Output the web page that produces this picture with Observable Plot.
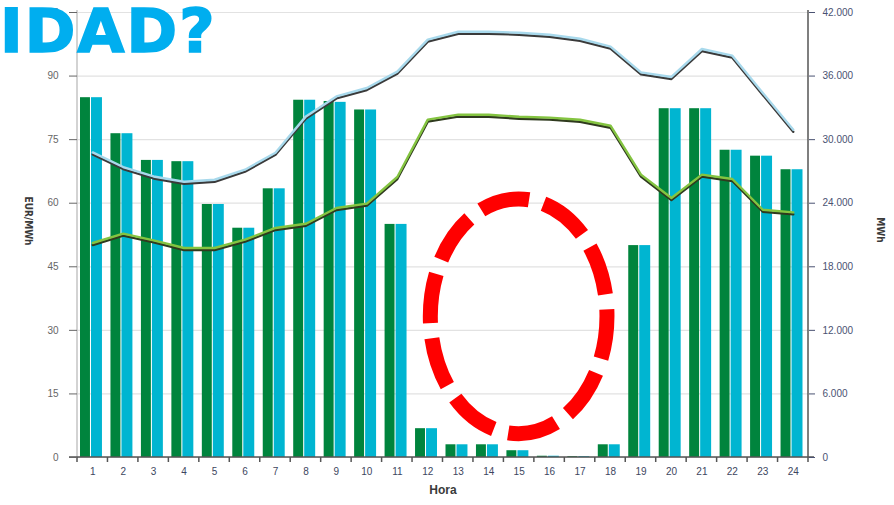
<!DOCTYPE html>
<html><head><meta charset="utf-8">
<script src="https://cdn.jsdelivr.net/npm/d3@7"></script>
<script src="https://cdn.jsdelivr.net/npm/@observablehq/plot@0.6"></script>
<style>
html,body{margin:0;padding:0;background:#fff;overflow:hidden;}
#wrap{position:relative;width:894px;height:505px;}
#title{position:absolute;left:0px;top:1px;font:bold 61px "DejaVu Sans";line-height:60px;letter-spacing:2px;color:#00aeef;-webkit-text-stroke:1.6px #00aeef;white-space:nowrap;}
</style></head><body>
<div id="wrap"><div id="chart"></div><div id="title">IDAD?</div></div>
<script>
// categories
const hours = [1,2,3,4,5,6,7,8,9,10,11,12,13,14,15,16,17,18,19,20,21,22,23,24];
// prices EUR/MWh (two series, green and cyan bars)
const priceGreen = [84.9,76.4,70.1,69.8,59.7,54.1,63.4,84.3,84.0,82.0,55.0,6.8,3.0,3.0,1.6,0.3,0.2,3.0,50.0,82.3,82.3,72.5,71.1,67.9];
const priceCyan  = [84.9,76.4,70.1,69.8,59.7,54.1,63.4,84.3,83.8,82.0,55.0,6.8,3.0,3.0,1.6,0.3,0.2,3.0,50.0,82.3,82.3,72.5,71.1,67.9];
// energy MWh (right axis)
const energyBlue  = [28720,27340,26450,25950,26140,27090,28690,32120,34000,34800,36340,39360,40110,40110,40020,39830,39450,38700,36270,35840,38480,37850,34330,30860];
const energyGreen = [20170,21050,20410,19700,19700,20480,21590,21990,23470,23880,26400,31810,32280,32280,32090,32000,31800,31240,26620,24420,26620,26210,23310,23060];
// tick labels
const leftTicks = [0,15,30,45,60,75,90,105];
const rightTicks = [0,6000,12000,18000,24000,30000,36000,42000];
// axis titles
const yLabelLeft = "EUR/MWh", yLabelRight = "MWh", xLabel = "Hora";
// annotation ring (data units)
const ringHour = 15, ringValue = 33.2, ringHalfHours = 2.9, ringHalfEur = 27.7;

const mwhPerEur = 42000 / 105;
const fmt = d3.formatLocale({decimal:",", thousands:".", grouping:[3], currency:["","€"]}).format(",.0f");

const rows = hours.map((h,i)=>({hour:h, g:priceGreen[i], c:priceCyan[i], eb:energyBlue[i]/mwhPerEur, eg:energyGreen[i]/mwhPerEur}));

function decor(index, scales, values, dims) {
  const {x, y} = scales;
  const g = d3.create("svg:g");
  const L = dims.marginLeft, R = dims.width - dims.marginRight, T = dims.marginTop, B = dims.height - dims.marginBottom;
  const bw = x(hours[1]) - x(hours[0]);
  g.append("line").attr("x1",L).attr("x2",L).attr("y1",T-2).attr("y2",B).attr("stroke","#c4c4c4").attr("stroke-width",1.5);
  g.append("line").attr("x1",R).attr("x2",R).attr("y1",T-2).attr("y2",B).attr("stroke","#555").attr("stroke-width",1.5);
  g.append("line").attr("x1",L-8).attr("x2",R+6).attr("y1",B).attr("y2",B).attr("stroke","#555").attr("stroke-width",1.5);
  for (const h of hours) {
    const xx = x(h) + bw;
    g.append("line").attr("x1",xx).attr("x2",xx).attr("y1",B).attr("y2",B+5).attr("stroke","#555").attr("stroke-width",1.5);
  }
  g.append("line").attr("x1",L).attr("x2",L).attr("y1",B).attr("y2",B+5).attr("stroke","#555").attr("stroke-width",1.5);
  return g.node();
}
function ring(index, scales, values, dims) {
  const {x, y} = scales;
  const bw = x(hours[1]) - x(hours[0]);
  const g = d3.create("svg:g");
  g.append("ellipse")
    .attr("cx", x(ringHour) + bw/2).attr("cy", y(ringValue))
    .attr("rx", ringHalfHours*bw).attr("ry", y(0) - y(ringHalfEur))
    .attr("pathLength", 650)
    .attr("fill","none").attr("stroke","#ff0000").attr("stroke-width",15)
    .attr("stroke-linecap","butt")
    .attr("stroke-dasharray","50 15").attr("stroke-dashoffset", 7);
  return g.node();
}

const narrow = "'Liberation Sans Narrow', 'DejaVu Sans Condensed', 'Liberation Sans', sans-serif";
const plot = Plot.plot({
  width: 894, height: 505,
  marginLeft: 77, marginRight: 86, marginTop: 12, marginBottom: 48,
  style: {fontFamily: "'Liberation Sans', Arial, sans-serif", fontSize: "10px", background: "transparent"},
  x: {type: "band", domain: hours, padding: 0, round: false},
  y: {domain: [0, 105]},
  marks: [
    Plot.ruleY(leftTicks, {stroke: "#e2e2e2", strokeWidth: 1.2}),
    Plot.barY(rows, {x: "hour", y: "g", fill: "#00843d", insetLeft: 3, insetRight: 17.5}),
    Plot.barY(rows, {x: "hour", y: "c", fill: "#00b5d1", insetLeft: 14, insetRight: 5.5}),
    Plot.lineY(rows, {x: "hour", y: "eb", stroke: "#3a3a3a", strokeWidth: 2.4, dy: 1.2}),
    Plot.lineY(rows, {x: "hour", y: "eb", stroke: "#a8d9ec", strokeWidth: 2.4, dy: -0.8}),
    Plot.lineY(rows, {x: "hour", y: "eg", stroke: "#2f3a1e", strokeWidth: 2.4, dy: 1.2}),
    Plot.lineY(rows, {x: "hour", y: "eg", stroke: "#84c441", strokeWidth: 2.4, dy: -0.8}),
    decor,
    Plot.axisX({tickSize: 0, tickPadding: 10, fontSize: 10, color: "#3d4660", label: null}),
    Plot.axisY(leftTicks, {anchor: "left", tickSize: 8, tickPadding: 11, fontSize: 10, color: "#666", label: null}),
    Plot.axisY(rightTicks.map(t => t / mwhPerEur), {anchor: "right", tickSize: 6, tickPadding: 8, fontSize: 10, color: "#4a5272", label: null, tickFormat: d => fmt(Math.round(d * mwhPerEur))}),
    Plot.text([yLabelLeft], {frameAnchor: "left", textAnchor: "middle", rotate: 90, dx: -49, dy: -14, fontSize: 10, fontWeight: "bold", fontFamily: narrow, fill: "#3a3a3a"}),
    Plot.text([yLabelRight], {frameAnchor: "right", textAnchor: "middle", rotate: 90, dx: 72, dy: -5, fontSize: 10, fontWeight: "bold", fontFamily: narrow, fill: "#3a3a3a"}),
    Plot.text([xLabel], {frameAnchor: "bottom", dy: 36, fontSize: 12, fontWeight: "bold", fill: "#3a3a3a"}),
    ring
  ]
});
document.getElementById("chart").appendChild(plot);
</script>
</body></html>
